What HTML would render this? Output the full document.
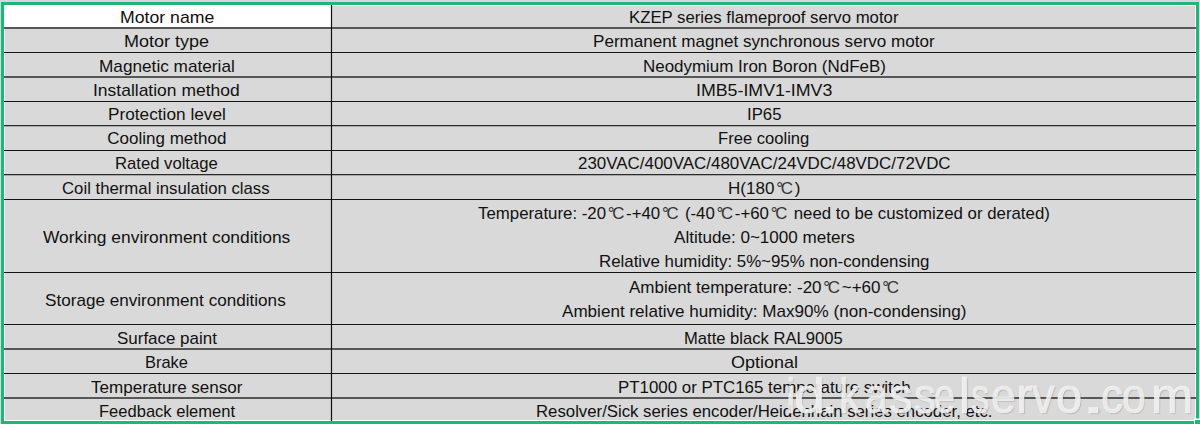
<!DOCTYPE html>
<html><head><meta charset="utf-8"><style>
html,body{margin:0;padding:0;width:1200px;height:424px;overflow:hidden;background:#d5d5df}
#wrap{position:absolute;left:0;top:0;width:1200px;height:424px}
.cells{position:absolute;left:4px;top:5px;width:1192px;height:416px;background:#d9d9d9}
.a1{position:absolute;left:4px;top:5px;width:327px;height:22px;background:#fff}
svg{position:absolute;left:0;top:0}
.t{position:absolute;white-space:nowrap;font-family:"Liberation Sans",sans-serif;font-size:17px;line-height:18.992px;color:#111;transform-origin:0 0}
.dg{margin-left:1.75px;margin-right:1.7px;color:#333} .dc{margin-left:-2.3px}
.wm{position:absolute;top:361px;white-space:nowrap;font-family:"Liberation Sans",sans-serif;font-size:50px;line-height:70px;color:rgba(242,242,242,0.9);-webkit-text-stroke:0.7px rgba(242,242,242,0.9);text-shadow:1px 1px 1px rgba(60,60,60,0.25);transform-origin:0 0}
</style></head><body><div id="wrap">
<div class="cells"></div>
<div class="a1"></div>
<svg width="1200" height="424" viewBox="0 0 1200 424">
<rect x="4.5" y="5.5" width="1191" height="415" fill="none" stroke="#fff" stroke-width="1"/>
<rect x="4" y="27" width="1192" height="1" fill="#575757"/><rect x="4" y="28" width="1192" height="1" fill="#575757"/><rect x="4" y="52" width="1192" height="1" fill="#151515"/><rect x="4" y="76" width="1192" height="1" fill="#575757"/><rect x="4" y="77" width="1192" height="1" fill="#575757"/><rect x="4" y="101" width="1192" height="1" fill="#151515"/><rect x="4" y="125" width="1192" height="1" fill="#2a2a2a"/><rect x="4" y="126" width="1192" height="1" fill="#a8a8a8"/><rect x="4" y="150" width="1192" height="1" fill="#151515"/><rect x="4" y="174" width="1192" height="1" fill="#2a2a2a"/><rect x="4" y="175" width="1192" height="1" fill="#a8a8a8"/><rect x="4" y="199" width="1192" height="1" fill="#151515"/><rect x="4" y="272" width="1192" height="1" fill="#151515"/><rect x="4" y="324" width="1192" height="1" fill="#151515"/><rect x="4" y="348" width="1192" height="1" fill="#575757"/><rect x="4" y="349" width="1192" height="1" fill="#575757"/><rect x="4" y="373" width="1192" height="1" fill="#151515"/><rect x="4" y="397" width="1192" height="1" fill="#575757"/><rect x="4" y="398" width="1192" height="1" fill="#575757"/>
<line x1="331.5" x2="331.5" y1="5" y2="421" stroke="#111" stroke-width="1.2"/>
<rect x="2.5" y="3.5" width="1195" height="419" fill="none" stroke="#1db776" stroke-width="3"/>
<rect x="1194" y="418.5" width="6" height="5.5" fill="#fff"/>
<rect x="1195" y="420" width="5" height="4" fill="#1db776"/>
</svg>
<div class="t" style="left:119.56px;top:8.00px;transform:scaleX(1.0393)">Motor name</div><div class="t" style="left:124.24px;top:32.00px;transform:scaleX(1.0595)">Motor type</div><div class="t" style="left:98.59px;top:57.00px;transform:scaleX(1.0121)">Magnetic material</div><div class="t" style="left:92.97px;top:81.00px;transform:scaleX(1.0277)">Installation method</div><div class="t" style="left:108.39px;top:105.00px;transform:scaleX(1.0140)">Protection level</div><div class="t" style="left:107.30px;top:129.00px;transform:scaleX(1.0000)">Cooling method</div><div class="t" style="left:115.32px;top:154.00px;transform:scaleX(0.9796)">Rated voltage</div><div class="t" style="left:62.41px;top:179.00px;transform:scaleX(0.9852)">Coil thermal insulation class</div><div class="t" style="left:43.30px;top:228.00px;transform:scaleX(1.0237)">Working environment conditions</div><div class="t" style="left:45.19px;top:291.00px;transform:scaleX(1.0067)">Storage environment conditions</div><div class="t" style="left:116.70px;top:329.00px;transform:scaleX(0.9970)">Surface paint</div><div class="t" style="left:144.93px;top:353.00px;transform:scaleX(0.9674)">Brake</div><div class="t" style="left:90.80px;top:378.00px;transform:scaleX(1.0020)">Temperature sensor</div><div class="t" style="left:98.73px;top:402.00px;transform:scaleX(0.9727)">Feedback element</div><div class="t" style="left:629.12px;top:8.00px;transform:scaleX(0.9846)">KZEP series flameproof servo motor</div><div class="t" style="left:593.40px;top:32.00px;transform:scaleX(1.0047)">Permanent magnet synchronous servo motor</div><div class="t" style="left:643.10px;top:57.00px;transform:scaleX(0.9963)">Neodymium Iron Boron (NdFeB)</div><div class="t" style="left:695.65px;top:81.00px;transform:scaleX(1.0457)">IMB5-IMV1-IMV3</div><div class="t" style="left:746.92px;top:105.00px;transform:scaleX(0.9848)">IP65</div><div class="t" style="left:717.92px;top:129.00px;transform:scaleX(0.9761)">Free cooling</div><div class="t" style="left:577.80px;top:154.00px;transform:scaleX(0.9957)">230VAC/400VAC/480VAC/24VDC/48VDC/72VDC</div><div class="t" style="left:728.10px;top:179.00px;transform:scaleX(1.0014)">H(180<span class="dg">°<span class="dc">C</span></span>)</div><div class="t" style="left:478.40px;top:204.00px;transform:scaleX(0.9893)">Temperature: -20<span class="dg">°<span class="dc">C</span></span>-+40<span class="dg">°<span class="dc">C</span></span> (-40<span class="dg">°<span class="dc">C</span></span>-+60<span class="dg">°<span class="dc">C</span></span> need to be customized or derated)</div><div class="t" style="left:673.70px;top:228.00px;transform:scaleX(1.0039)">Altitude: 0~1000 meters</div><div class="t" style="left:599.41px;top:252.00px;transform:scaleX(0.9918)">Relative humidity: 5%~95% non-condensing</div><div class="t" style="left:628.70px;top:278.00px;transform:scaleX(0.9989)">Ambient temperature: -20<span class="dg">°<span class="dc">C</span></span>~+60<span class="dg">°<span class="dc">C</span></span></div><div class="t" style="left:562.10px;top:302.00px;transform:scaleX(1.0047)">Ambient relative humidity: Max90% (non-condensing)</div><div class="t" style="left:684.42px;top:329.00px;transform:scaleX(0.9764)">Matte black RAL9005</div><div class="t" style="left:731.24px;top:353.00px;transform:scaleX(1.0574)">Optional</div><div class="t" style="left:618.21px;top:378.00px;transform:scaleX(0.9925)">PT1000 or PTC165 temperature switch</div><div class="t" style="left:536.11px;top:402.00px;transform:scaleX(0.9859)">Resolver/Sick series encoder/Heidenhain series encoder, etc.</div>
<div class="wm" style="left:785.98px;transform:scaleX(0.8400)">i</div><div class="wm" style="left:793.77px;transform:scaleX(1.1174)">d</div><div class="wm" style="left:819.62px;transform:scaleX(1.3750)">.</div><div class="wm" style="left:839.09px;transform:scaleX(0.8364)">k</div><div class="wm" style="left:865.36px;transform:scaleX(0.8192)">a</div><div class="wm" style="left:889.10px;transform:scaleX(0.9524)">s</div><div class="wm" style="left:913.74px;transform:scaleX(0.8810)">s</div><div class="wm" style="left:933.50px;transform:scaleX(0.7500)">e</div><div class="wm" style="left:958.96px;transform:scaleX(0.9800)">l</div><div class="wm" style="left:971.02px;transform:scaleX(0.7381)">s</div><div class="wm" style="left:990.52px;transform:scaleX(0.8875)">e</div><div class="wm" style="left:1016.25px;transform:scaleX(0.9846)">r</div><div class="wm" style="left:1032.00px;transform:scaleX(0.9040)">v</div><div class="wm" style="left:1055.62px;transform:scaleX(0.9417)">o</div><div class="wm" style="left:1081.12px;transform:scaleX(1.7750)">.</div><div class="wm" style="left:1100.85px;transform:scaleX(0.8762)">c</div><div class="wm" style="left:1122.09px;transform:scaleX(0.8542)">o</div><div class="wm" style="left:1150.85px;transform:scaleX(1.0171)">m</div>
</div></body></html>
